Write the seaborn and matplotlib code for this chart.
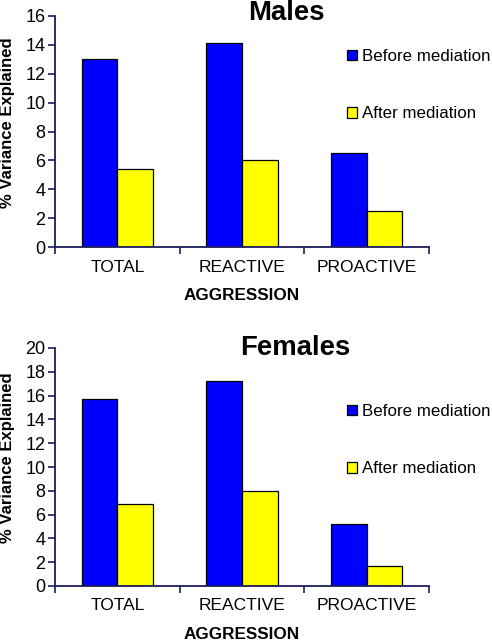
import numpy as np
import pandas as pd
import matplotlib
matplotlib.use('Agg')
import matplotlib.pyplot as plt
import seaborn as sns

# --- DATA ---
kategoriler = ['TOTAL', 'REACTIVE', 'PROACTIVE']
seriler = ['Before mediation', 'After mediation']
erkek_once = [13.0, 14.1, 6.5]
erkek_sonra = [5.4, 6.0, 2.5]
kadin_once = [15.7, 17.2, 5.2]
kadin_sonra = [6.9, 8.0, 1.7]

renkler = {'Before mediation': '#0000FF', 'After mediation': '#FFFF00'}
SPINE = '#1c1c5c'

sns.set_style('white')
plt.rcParams['font.family'] = ['Liberation Sans', 'DejaVu Sans']
plt.rcParams['text.color'] = 'black'
plt.rcParams['axes.labelcolor'] = 'black'
plt.rcParams['xtick.color'] = 'black'
plt.rcParams['ytick.color'] = 'black'


def tablo(once, sonra):
    return pd.DataFrame({
        'kategori': kategoriler * 2,
        'seri': [seriler[0]] * 3 + [seriler[1]] * 3,
        'deger': list(once) + list(sonra),
    })


fig = plt.figure(figsize=(4.92, 6.42), dpi=100)
W, H = 492, 642


def panel(veri, baslik, rect, ymax, ystep, baslik_xy, leg_y):
    ax = fig.add_axes(rect)
    sns.barplot(data=veri, x='kategori', y='deger', hue='seri', order=kategoriler,
                hue_order=seriler, palette=renkler, width=0.572, gap=0,
                edgecolor='black', linewidth=0.9, saturation=1, errorbar=None, ax=ax)
    ax.set_xlim(-0.5, 2.5)
    ax.set_ylim(0, ymax)
    ax.set_yticks(np.arange(0, ymax + 0.1, ystep))
    ax.set_xticks([0, 1, 2])
    ax.set_xticklabels(kategoriler)
    ax.set_xticks([-0.5, 0.5, 1.5, 2.5], minor=True)
    ax.tick_params(axis='x', which='major', bottom=True, length=0, labelsize=12.5, pad=9,
                   labelcolor='black')
    ax.tick_params(axis='x', which='minor', bottom=True, length=5, width=1.2, color=SPINE,
                   direction='out')
    ax.tick_params(axis='y', left=True, length=5, width=1.2, color=SPINE, direction='out',
                   labelsize=13, pad=2, labelcolor='black')
    for s in ['top', 'right']:
        ax.spines[s].set_visible(False)
    for s in ['left', 'bottom']:
        ax.spines[s].set_color(SPINE)
        ax.spines[s].set_linewidth(1.3)
    ax.set_xlabel('AGGRESSION', fontsize=12.3, fontweight='bold', labelpad=10)
    ax.set_ylabel('% Variance Explained', fontsize=12, fontweight='bold')
    ax.yaxis.set_label_coords(-0.106, 0.54)
    fig.text(baslik_xy[0] / W, 1 - baslik_xy[1] / H, baslik, fontsize=19.8, fontweight='bold',
             ha='center', va='baseline')
    h, l = ax.get_legend_handles_labels()
    ax.legend(h, l, loc='upper left', bbox_to_anchor=(347 / W, 1 - leg_y / H),
              bbox_transform=fig.transFigure, frameon=False, fontsize=12.2,
              handlelength=0.6, handleheight=0.6, handletextpad=0.3,
              labelspacing=2.5, borderaxespad=0, borderpad=0)
    return ax


panel(tablo(erkek_once, erkek_sonra), 'Males',
      [55 / W, 1 - 247 / H, 374 / W, 231 / H], 16, 2, (286, 20), 49)
panel(tablo(kadin_once, kadin_sonra), 'Females',
      [55 / W, 1 - 586 / H, 374 / W, 238 / H], 20, 2, (295, 355), 404)

fig.savefig('out.png', dpi=100)
plt.close(fig)
